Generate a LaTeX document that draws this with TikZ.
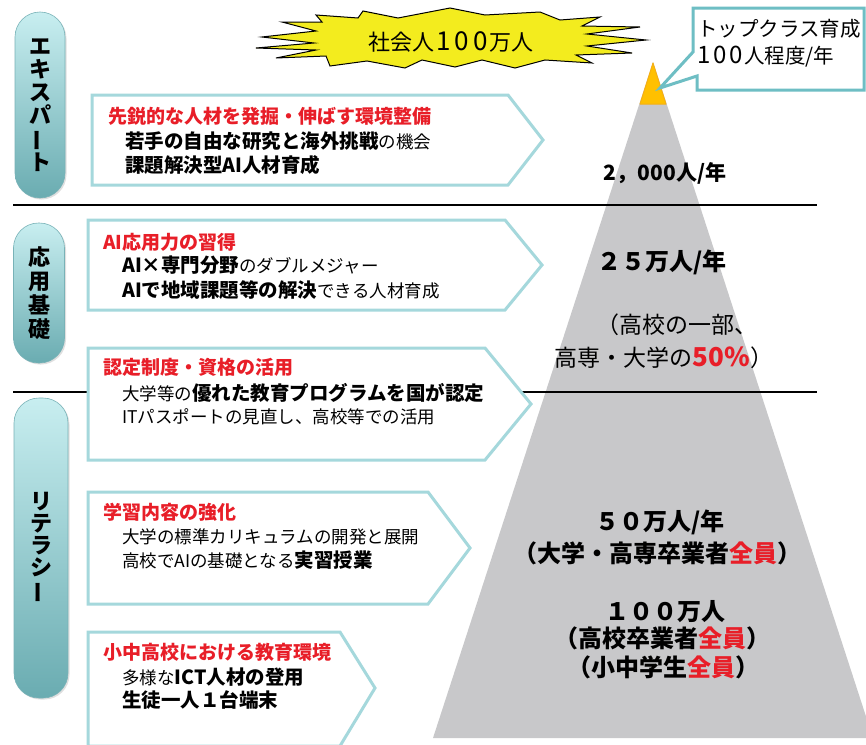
\documentclass[tikz,border=0pt]{standalone}
\usepackage{fontspec}
\usepackage{graphicx}
\newfontfamily\jp{Noto Sans CJK JP}
\usetikzlibrary{shadows}
\definecolor{boxteal}{RGB}{165,216,220}
\definecolor{callteal}{RGB}{110,190,196}
\definecolor{pilltop}{RGB}{200,238,240}
\definecolor{pillbot}{RGB}{106,172,177}
\definecolor{pilledge}{RGB}{120,178,183}
\definecolor{jred}{RGB}{232,30,40}
\definecolor{trigray}{RGB}{200,200,202}
\definecolor{topora}{RGB}{255,192,0}
\definecolor{toporaedge}{RGB}{245,175,20}
\definecolor{burst}{RGB}{243,236,30}
\newcommand{\vbar}{\rotatebox[origin=c]{90}{ー}}
\newcommand{\bx}[1]{{\bfseries\fontsize{19.5}{19.5}\selectfont #1}}
\begin{document}
\begin{tikzpicture}[x=1pt,y=-1pt,
  pill/.style={rounded corners=25pt, top color=pilltop, bottom color=pillbot, draw=pilledge, line width=0.6pt,
    drop shadow={opacity=0.25, shadow xshift=1.5pt, shadow yshift=-1.5pt},
    align=center, inner sep=0pt, font=\jp\bfseries\fontsize{22}{23}\selectfont},
  panel/.style={draw=boxteal, line width=3pt, fill=white, line join=miter},
  ttl/.style={anchor=west, inner sep=0pt, text=jred, font=\jp\bfseries\fontsize{19}{19}\selectfont},
  itm/.style={anchor=west, inner sep=0pt, font=\jp\fontsize{17.5}{17.5}\selectfont},
  tri/.style={inner sep=0pt, font=\jp\bfseries\fontsize{24}{24}\selectfont},
  trn/.style={inner sep=0pt, font=\jp\fontsize{23}{23}\selectfont},
  divider/.style={line width=1.5pt, black}]
\useasboundingbox (0,0) rectangle (866,744);
\clip (0,0) rectangle (866,744);
\fill[white] (0,0) rectangle (866,744);

% pyramid
\fill[trigray] (653,62) -- (433,738) -- (873,738) -- cycle;
\filldraw[fill=topora, draw=toporaedge, line width=1pt, line join=round] (653,63) -- (640,104) -- (666,104) -- cycle;

% divider lines
\draw[divider] (13,205) -- (817,205);
\draw[divider] (13,392) -- (817,392);

% starburst
\filldraw[fill=burst, draw=black, line width=1pt, line join=miter]
 (262,37) -- (316,31) -- (282,22) -- (322,22) -- (316,15) -- (358,18) -- (363,11) -- (398,18)
 -- (450,8) -- (485,15) -- (540,12) -- (560,20) -- (600,17) -- (582,26) -- (640,27) -- (587,34)
 -- (646,40) -- (587,46) -- (632,53) -- (576,55) -- (592,63) -- (545,60) -- (515,68) -- (482,60)
 -- (455,67) -- (422,60) -- (405,68) -- (367,61) -- (330,66) -- (326,56) -- (276,58) -- (316,50)
 -- (256,48) -- (314,43) -- cycle;
\node[trn, font=\jp\fontsize{22}{22}\selectfont] (burstlabel) at (451,42)
  {社会人\kern2pt{\fontsize{26}{26}\selectfont 1\kern4pt 0\kern4pt 0}\kern2pt 万人};

% callout
\filldraw[fill=white, draw=callteal, line width=3pt, line join=miter]
 (693,8) -- (864,8) -- (864,90) -- (697,90) -- (697,76) -- (660,88) -- (693,52) -- cycle;
\node[itm, font=\jp\fontsize{20.5}{20.5}\selectfont] (call1) at (697,29) {トップクラス育成};
\node[itm, font=\jp\fontsize{20.5}{20.5}\selectfont] (call2) at (697,57)
  {{\fontsize{24}{24}\selectfont 1\kern3pt 0\kern3pt 0}\kern1pt 人程度/年};

% pills
\node[pill, minimum width=50pt, minimum height=186pt] (pexp) at (40,105)
  {エ\\キ\\ス\\パ\\\vbar\\ト};
\node[pill, minimum width=51pt, minimum height=140pt, font=\jp\bfseries\fontsize{22}{24}\selectfont] (papp) at (39,293)
  {応\\用\\基\\礎};
\node[pill, minimum width=54pt, minimum height=300pt, font=\jp\bfseries\fontsize{22}{22}\selectfont] (plit) at (41,548)
  {リ\\テ\\ラ\\シ\\\vbar};

% panels
\draw[panel] (92,95) -- (508,95) -- (543,140) -- (508,185) -- (92,185) -- cycle;
\draw[panel] (88,220) -- (505,220) -- (542,265) -- (505,310) -- (88,310) -- cycle;
\draw[panel] (88,348) -- (485,348) -- (531,404) -- (485,460) -- (88,460) -- cycle;
\draw[panel] (88,492) -- (428,492) -- (470,548) -- (428,604) -- (88,604) -- cycle;
\draw[panel] (88,632) -- (340,632) -- (375,688) -- (340,746) -- (88,746) -- cycle;

% panel texts
\node[ttl] (t1) at (108,116) {先鋭的な人材を発掘・伸ばす環境整備};
\node[itm] (t1a) at (125,141) {\bx{若手の自由な研究と海外挑戦}の機会};
\node[itm] (t1b) at (125,165) {\bx{課題解決型AI人材育成}};

\node[ttl] (t2) at (103,242) {AI応用力の習得};
\node[itm] (t2a) at (122,265) {\bx{AI×専門分野}のダブルメジャー};
\node[itm] (t2b) at (122,290) {\bx{AIで地域課題等の解決}できる人材育成};

\node[ttl] (t3) at (103,367) {認定制度・資格の活用};
\node[itm] (t3a) at (122,393) {大学等の\bx{優れた教育プログラムを国が認定}};
\node[itm] (t3b) at (122,417) {ITパスポートの見直し、高校等での活用};

\node[ttl] (t4) at (103,512) {学習内容の強化};
\node[itm] (t4a) at (122,537) {大学の標準カリキュラムの開発と展開};
\node[itm] (t4b) at (122,560) {高校でAIの基礎となる\bx{実習授業}};

\node[ttl] (t5) at (103,652) {小中高校における教育環境};
\node[itm] (t5a) at (122,677) {多様な\bx{ICT人材の登用}};
\node[itm] (t5b) at (122,700) {\bx{生徒一人１台端末}};

% pyramid texts
\node[tri, font=\jp\bfseries\fontsize{21}{21}\selectfont] (n1) at (665,173) {2，000人/年};
\node[tri] (n2) at (662,262) {２５万人/年};
\node[trn] (n3) at (677,325) {（高校の一部、};
\node[trn] (n4) at (664,358) {高専・大学の{\bfseries\fontsize{26}{26}\selectfont\color{jred}50\%}）};
\node[tri] (n5) at (660,522) {５０万人/年};
\node[tri] (n6) at (657,553) {（大学・高専卒業者{\color{jred}全員}）};
\node[tri] (n7) at (665,612) {１００万人};
\node[tri] (n8) at (662,638) {（高校卒業者{\color{jred}全員}）};
\node[tri] (n9) at (663,667) {（小中学生{\color{jred}全員}）};
\end{tikzpicture}
\end{document}
